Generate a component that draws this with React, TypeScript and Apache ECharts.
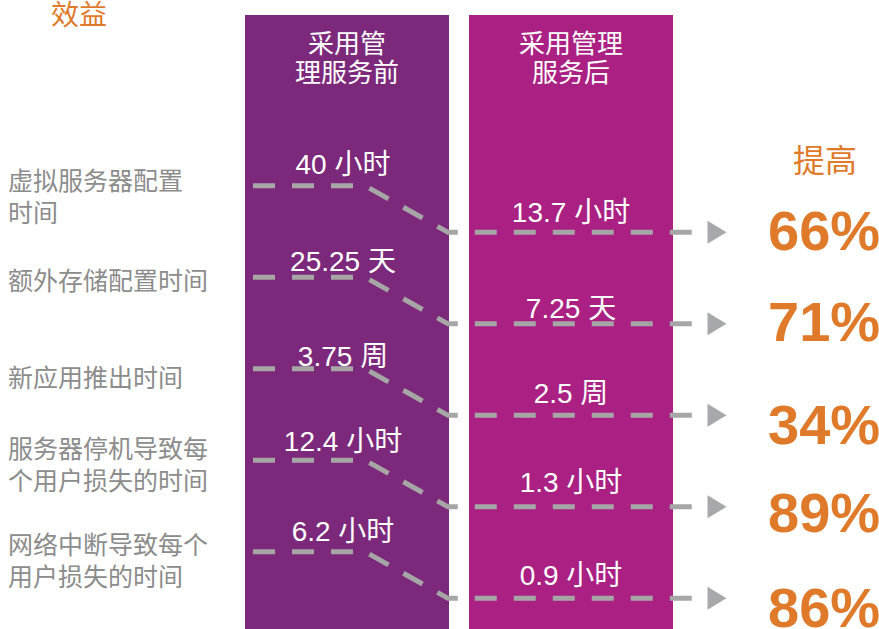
import React, { useEffect, useRef } from "react";
import * as echarts from "echarts";

// ---- data ----
const METRICS = [
  "虚拟服务器配置\n时间",
  "额外存储配置时间",
  "新应用推出时间",
  "服务器停机导致每\n个用户损失的时间",
  "网络中断导致每个\n用户损失的时间",
];
const BEFORE = [40, 25.25, 3.75, 12.4, 6.2];
const AFTER = [13.7, 7.25, 2.5, 1.3, 0.9];
const UNITS = ["小时", "天", "周", "小时", "小时"];
const GAIN = [66, 71, 34, 89, 86];
const TITLE = "效益";
const GAIN_TITLE = "提高";
const HEAD_BEFORE = "采用管\n理服务前";
const HEAD_AFTER = "采用管理\n服务后";

// ---- layout ----
const W = 879;
const H = 629;
const PATH_X = [253, 365, 448, 695];
const DROP = 0.51;
const BEFORE_X = 343;
const AFTER_X = 571;
const ARROW_X = 717;
const PCT_X = 768;
const DESC_X = 8;
const BEFORE_DY = [-21, -16, -12, -19, -20];
const AFTER_DY = [-20, -15, -22, -24, -23];
const PCT_DY = [-2, -2, 9, 6, 9];
const DESC_DY = [11, 4, 9, 5, 9];

const ORANGE = "#e07a2b";
const GREY_LINE = "#a6a6a6";
const CJK = '"Liberation Sans", Arial, "Noto Sans CJK SC", sans-serif';

export default function App() {
  const ref = useRef<HTMLDivElement>(null);

  useEffect(() => {
    document.body.style.margin = "0";
    if (!ref.current) return;
    const chart = echarts.init(ref.current, undefined, { renderer: "svg" });

    const lineSeries = METRICS.map((_, i) => ({
      type: "line",
      data: [
        [PATH_X[0], i],
        [PATH_X[1], i],
        [PATH_X[2], i + DROP],
        [PATH_X[3], i + DROP],
      ],
      symbol: "none",
      silent: true,
      clip: false,
      z: 3,
      lineStyle: { color: GREY_LINE, width: 5, type: [22, 17], cap: "butt", join: "miter", opacity: 1 },
    }));

    const hiddenItem = { color: "transparent", opacity: 1 };

    const option: any = {
      animation: false,
      grid: { left: 0, right: 0, top: 48.45, bottom: 22.4 },
      xAxis: { type: "value", min: 0, max: W, show: false },
      yAxis: { type: "value", inverse: true, min: -1.5, max: 4.6, show: false },
      graphic: [
        { type: "rect", shape: { x: 245, y: 15, width: 204, height: 620 }, style: { fill: "#7d297b" }, z: 0 },
        { type: "rect", shape: { x: 469, y: 15, width: 204, height: 620 }, style: { fill: "#aa2183" }, z: 0 },
        {
          type: "text", z: 1,
          style: {
            text: HEAD_BEFORE, x: 347, y: 58.5, align: "center", verticalAlign: "middle",
            fontSize: 26, lineHeight: 29, fontFamily: CJK, fill: "#ffffff",
          },
        },
        {
          type: "text", z: 1,
          style: {
            text: HEAD_AFTER, x: 571, y: 58.5, align: "center", verticalAlign: "middle",
            fontSize: 26, lineHeight: 29, fontFamily: CJK, fill: "#ffffff",
          },
        },
        {
          type: "text", z: 1,
          style: {
            text: TITLE, x: 79, y: 15, align: "center", verticalAlign: "middle",
            fontSize: 28, fontFamily: CJK, fill: ORANGE,
          },
        },
        {
          type: "text", z: 1,
          style: {
            text: GAIN_TITLE, x: 825, y: 161, align: "center", verticalAlign: "middle",
            fontSize: 32, fontFamily: CJK, fill: ORANGE,
          },
        },
      ],
      series: [
        ...lineSeries,
        {
          type: "scatter",
          symbolSize: 1,
          itemStyle: hiddenItem,
          silent: true,
          clip: false,
          z: 5,
          data: METRICS.map((_, i) => ({
            value: [DESC_X, i],
            label: { offset: [0, DESC_DY[i]] },
          })),
          label: {
            show: true,
            position: "inside",
            align: "left",
            verticalAlign: "middle",
            formatter: (p: any) => METRICS[p.dataIndex],
            color: "#8c8c8c",
            fontSize: 25,
            lineHeight: 32,
            fontFamily: CJK,
          },
        },
        {
          type: "scatter",
          symbolSize: 1,
          itemStyle: hiddenItem,
          silent: true,
          clip: false,
          z: 5,
          data: BEFORE.map((_, i) => ({
            value: [BEFORE_X, i],
            label: { offset: [0, BEFORE_DY[i]] },
          })),
          label: {
            show: true,
            position: "inside",
            align: "center",
            verticalAlign: "middle",
            formatter: (p: any) => `${BEFORE[p.dataIndex]} ${UNITS[p.dataIndex]}`,
            color: "#ffffff",
            fontSize: 28,
            fontFamily: CJK,
          },
        },
        {
          type: "scatter",
          symbolSize: 1,
          itemStyle: hiddenItem,
          silent: true,
          clip: false,
          z: 5,
          data: AFTER.map((_, i) => ({
            value: [AFTER_X, i + DROP],
            label: { offset: [0, AFTER_DY[i]] },
          })),
          label: {
            show: true,
            position: "inside",
            align: "center",
            verticalAlign: "middle",
            formatter: (p: any) => `${AFTER[p.dataIndex]} ${UNITS[p.dataIndex]}`,
            color: "#ffffff",
            fontSize: 28,
            fontFamily: CJK,
          },
        },
        {
          type: "scatter",
          symbol: "triangle",
          symbolRotate: -90,
          symbolSize: [23, 19],
          itemStyle: { color: "#a7a8ab", opacity: 1 },
          silent: true,
          clip: false,
          z: 4,
          data: GAIN.map((_, i) => [ARROW_X, i + DROP]),
        },
        {
          type: "scatter",
          symbolSize: 1,
          itemStyle: hiddenItem,
          silent: true,
          clip: false,
          z: 5,
          data: GAIN.map((_, i) => ({
            value: [PCT_X, i + DROP],
            label: { offset: [0, PCT_DY[i]] },
          })),
          label: {
            show: true,
            position: "inside",
            align: "left",
            verticalAlign: "middle",
            formatter: (p: any) => `${GAIN[p.dataIndex]}%`,
            color: ORANGE,
            fontSize: 56,
            fontWeight: "bold",
            fontFamily: '"Liberation Sans", Arial, sans-serif',
          },
        },
      ],
    };

    chart.setOption(option);
    return () => chart.dispose();
  }, []);

  return <div ref={ref} style={{ width: W, height: H }} />;
}
